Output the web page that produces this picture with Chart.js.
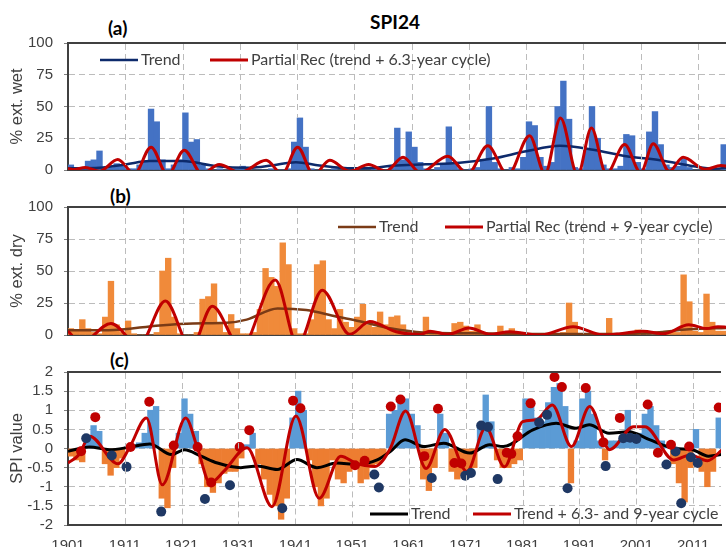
<!DOCTYPE html>
<html>
<head>
<meta charset="utf-8">
<script src="https://cdn.jsdelivr.net/npm/chart.js@4.4.0/dist/chart.umd.min.js"></script>
<style>
  body { margin: 0; background: #fff; }
  #wrap { position: relative; width: 726px; height: 547px; overflow: hidden; font-family: Lato, "Open Sans", sans-serif; }
  canvas { position: absolute; left: 0; }
  .lbl { position: absolute; font-weight: bold; color: #000; font-size: 19px; line-height: 22px; }
</style>
</head>
<body>
<div id="wrap">
  <div class="lbl" style="left:345px; width:100px; text-align:center; top:11px; font-size:19px;">SPI24</div>
  <div class="lbl" style="left:108px; top:17px;">(a)</div>
  <div class="lbl" style="left:110px; top:185px;">(b)</div>
  <div class="lbl" style="left:110px; top:349px;">(c)</div>
  <canvas id="chartA" width="726" height="190" style="top:0px"></canvas>
  <canvas id="chartB" width="726" height="170" style="top:185px"></canvas>
  <canvas id="chartC" width="726" height="202" style="top:345px"></canvas>
</div>
<script>
/* ------------------ DATA ------------------ */
const firstYear = 1901;                  // bars: one value per year, 1901..2016
const decadeTicks = [1901, 1911, 1921, 1931, 1941, 1951, 1961, 1971, 1981, 1991, 2001, 2011];

// (a) % of area extremely wet
const wetPct = [
  4, 1, 1, 7, 8, 15, 1, 2, 5, 4,
  1, 1, 4, 7, 48, 38, 8, 1, 4, 8,
  45, 22, 24, 4, 1, 0, 1, 0, 0, 1,
  3, 1, 0, 0, 0, 1, 0, 0, 1, 22,
  41, 18, 1, 0, 0, 0, 1, 0, 0, 0,
  0, 0, 0, 1, 0, 0, 2, 33, 8, 30,
  18, 6, 1, 0, 2, 5, 34, 5, 1, 0,
  1, 2, 8, 50, 6, 1, 0, 2, 1, 10,
  38, 35, 10, 3, 6, 50, 70, 40, 2, 1,
  16, 50, 25, 4, 1, 1, 3, 28, 27, 6,
  1, 30, 46, 20, 4, 2, 3, 9, 2, 0,
  0, 0, 0, 0, 20, 37
];
// (b) % of area extremely dry
const dryPct = [
  5, 3, 12, 5, 2, 1, 14, 42, 8, 2,
  11, 1, 0, 0, 0, 2, 50, 60, 14, 1,
  0, 0, 2, 28, 30, 40, 10, 2, 16, 5,
  1, 1, 2, 20, 52, 45, 38, 72, 55, 5,
  1, 1, 12, 55, 58, 12, 5, 20, 10, 6,
  14, 24, 8, 6, 18, 8, 14, 15, 8, 2,
  1, 1, 14, 2, 1, 0, 2, 9, 10, 7,
  3, 8, 1, 1, 1, 7, 1, 5, 1, 0,
  0, 0, 0, 0, 0, 1, 2, 25, 10, 1,
  0, 0, 0, 1, 13, 1, 0, 0, 0, 4,
  0, 0, 0, 1, 3, 3, 2, 47, 26, 3,
  2, 32, 10, 3, 3, 3
];
// (c) SPI24 value
const spiVal = [
  -0.2, -0.3, -0.35, 0.3, 0.6, 0.45, -0.4, -0.7, -0.5, -0.25,
  0.05, 0.1, 0.15, 0.4, 1.0, 1.1, -1.3, -1.55, -0.5, 0.4,
  1.3, 0.9, 0.45, -0.4, -1.0, -1.15, -0.9, -0.65, -0.6, -0.6,
  -0.25, 0.1, 0.4, -0.4, -0.8, -1.2, -1.5, -1.85, -1.3, 0.8,
  1.5, 1.0, -0.3, -1.0, -1.5, -1.3, -0.3, -0.8, -0.9, -0.6,
  -0.5, -0.9, -0.8, -0.5, -0.4, -0.2, 0.9, 1.0, 1.2, 1.3,
  0.9, 0.6, -0.8, -1.1, -0.5, 0.9, 0.4, -0.6, -0.8, -0.7,
  -0.6, -0.5, 0.6, 1.4, 0.7, -0.3, -0.5, -0.5, -0.4, -0.3,
  1.3, 1.1, 0.8, 0.7, 1.2, 1.6, 1.7, 1.1, -0.9, 0.2,
  1.3, 1.5, 0.9, 0.2, -0.3, 0.2, 0.2, 0.2, 1.0, 0.4,
  0.4, 0.9, 1.1, 0.6, 0.2, 0.1, -0.4, -0.9, -1.4, -0.5,
  0.5, -0.6, -1.0, -0.6, 0.8, 0.9
];

// smooth curves: [year, value] read at turning points
const wetTrend = [
  [1901, 1.3], [1906.5, 1.8], [1911.1, 4.4], [1915.2, 7], [1921, 7], [1926.9, 3],
  [1932.7, 1.8], [1936.5, 3.5], [1940.8, 6.2], [1944.9, 3.6], [1950.7, 1.3], [1954, 1.5],
  [1957.7, 3.5], [1963.5, 4.5], [1969.4, 5.7], [1975.2, 9], [1981, 14.7], [1986.9, 19],
  [1992.7, 16], [1998.5, 10.8], [2004.4, 7.7], [2010.2, 3], [2013.7, 1], [2016.2, 1.8]
];
const wetRec = [
  [1901, 1.3], [1902, 0.3], [1904, 2], [1906.5, -1], [1909.7, 8.3], [1912.6, -3],
  [1915.5, 18], [1918.4, -4], [1921.3, 15.6], [1924.4, -3], [1927.4, 4.3], [1931, -2],
  [1935.6, 7.6], [1938.4, -3], [1941.1, 18], [1943.9, -4], [1946.7, 7.6], [1950.2, -1],
  [1953.5, 4.3], [1956.5, -1], [1959.5, 10], [1962.5, -2], [1967.3, 10.9], [1970.8, -3],
  [1974.3, 19], [1977.8, -4], [1981.6, 27], [1984.3, -3], [1987, 41], [1990, -4],
  [1992.4, 33], [1995, -3], [1998.2, 20], [2001, -2], [2003.2, 20.7], [2006, -1],
  [2008.4, 10], [2012.3, 0.5], [2015, 3.5], [2016.2, 3]
];
const dryTrend = [
  [1901, 3.75], [1908, 3.75], [1917, 7.5], [1922.8, 9], [1928.7, 9.5], [1932.2, 12],
  [1937.6, 20.75], [1942.6, 19.5], [1947.8, 14.5], [1951.9, 10.75], [1957.5, 5], [1963, 2],
  [1974.6, 1.25], [1986.2, 0.75], [1997.9, 0.75], [2003.7, 2], [2009.5, 4.5], [2016.2, 5.5]
];
const dryRec = [
  [1901, 3], [1903.3, -6], [1908.5, 9], [1913.4, -8], [1918, 26.5], [1922.5, -10],
  [1926.2, 22.5], [1931.2, -10], [1937.2, 43], [1941.1, -8], [1945.4, 35], [1950.2, 0.5],
  [1953.7, 10.5], [1958.3, 2.5], [1962.4, 0.3], [1964.2, 3], [1967.4, 0.5], [1971, 5.5],
  [1974.8, 0.5], [1978.1, 2.5], [1983.5, 0], [1989.2, 6.5], [1994.5, 0], [1997.5, 1],
  [2001.4, 3], [2005, 1], [2009.4, 8], [2012.5, 5], [2014.5, 6.5], [2016.2, 6]
];
const spiTrend = [
  [1901, -0.07], [1904.8, 0.04], [1908.3, -0.03], [1911.7, 0.03], [1915.4, 0.12], [1919.2, -0.16],
  [1921.5, -0.03], [1924.4, -0.2], [1927.3, -0.38], [1931.4, -0.5], [1934.3, -0.46], [1937.8, -0.55],
  [1941.3, -0.29], [1944.8, -0.5], [1948.3, -0.38], [1951.8, -0.42], [1955.4, -0.3], [1957.7, -0.08],
  [1960.3, 0.23], [1963.6, 0.05], [1967.1, 0.14], [1971.7, -0.12], [1975.2, 0.1], [1977.6, 0.05],
  [1982.8, 0.49], [1986.9, 0.66], [1990.4, 0.53], [1992.7, 0.62], [1996.2, 0.4], [1999.7, 0.44],
  [2003.2, 0.24], [2007.8, 0.0], [2010.8, -0.03], [2013.7, -0.2], [2016.2, -0.15]
];
const spiRec = [
  [1901, -0.38], [1903, -0.15], [1904.8, 0.32], [1909.8, -0.4], [1911.9, 0.05], [1914.8, 0.8],
  [1917.6, -0.95], [1921.7, 0.8], [1923.8, 0.0], [1926, -0.9], [1928.4, -0.6], [1932.5, 0.02],
  [1936.9, -1.52], [1941.1, 0.85], [1945.2, -1.3], [1949, -0.2], [1951.9, -0.4], [1955, -0.47],
  [1957.7, 0.0], [1960.4, 0.98], [1964, -0.52], [1967.3, 0.5], [1971.2, -0.6], [1974.5, 0.55],
  [1977.8, -0.48], [1981, 0.7], [1983.4, 0.75], [1986.2, 1.14], [1989.6, 0.05], [1992.8, 1.1],
  [1996.3, -0.03], [2000.5, 0.57], [2002.5, 0.57], [2007.6, -0.3], [2010.5, -0.17], [2013.5, -0.32],
  [2016.2, -0.02]
];
// (c) marked wet / dry events
const wetEvents = [
  [1903.3, -0.07], [1905.8, 0.82], [1912.0, 0.04], [1915.3, 1.22], [1919.6, 0.08], [1923.8, 0.04],
  [1926.2, -0.89], [1931.2, 0.04], [1932.9, 0.48], [1940.6, 1.25], [1941.9, 1.05], [1951.5, -0.44],
  [1953.2, -0.32], [1957.8, 1.1], [1959.5, 1.28], [1963.7, -0.2], [1966.1, 1.04], [1969.0, -0.38],
  [1970.2, -0.39], [1978.2, -0.11], [1979.0, -0.14], [1980.1, 0.32], [1982.4, 1.18], [1986.6, 1.87],
  [1987.9, 1.61], [1992.1, 1.58], [1995.2, 0.16], [1998.1, 0.8], [2003.0, 1.15], [2004.8, -0.11],
  [2007.1, 0.1], [2010.3, 0.05], [2015.5, 1.07]
];
const dryEvents = [
  [1904.2, 0.27], [1908.7, -0.18], [1911.3, -0.48], [1917.4, -1.65], [1925.1, -1.32], [1929.5, -0.96],
  [1938.7, -1.56], [1954.9, -0.68], [1955.7, -1.02], [1965.0, -0.77], [1970.9, -0.71], [1971.9, -0.64],
  [1973.7, 0.6], [1974.9, 0.56], [1976.6, -0.8], [1983.9, 0.68], [1985.3, 0.88], [1988.9, -1.04],
  [1995.6, -0.46], [1998.7, 0.27], [1999.9, 0.28], [2001.0, 0.25], [2006.3, -0.42], [2007.9, -0.08],
  [2008.9, -1.43], [2010.6, -0.23], [2011.8, -0.38]
];

/* ------------------ HELPERS ------------------ */
const yearBars = vals => vals.map((v, i) => ({ x: firstYear + i + 0.5, y: v }));
const xy = pairs => pairs.map(p => ({ x: p[0], y: p[1] }));

const tickFont = { family: "Liberation Sans", size: 15 };
const textColor = "#404040";
const gridColor = "#bcbcbc";
const frameColor = "#404040";

// dashed decade lines (left out where a bar stands) + solid line along the top of the plot
const frameGrid = {
  id: "frameGrid",
  afterDraw(chart) {
    const { ctx, chartArea, scales } = chart;
    const barSet = chart.data.datasets.find(d => d.type === "bar");
    const yAt = v => scales.y.getPixelForValue(v);
    const top = chartArea.top + 1;
    const bottom = chartArea.bottom - 1;

    ctx.save();
    ctx.strokeStyle = gridColor;
    ctx.lineWidth = 1;
    ctx.setLineDash([6, 4]);
    for (const v of decadeTicks) {
      const px = Math.round(scales.x.getPixelForValue(v)) + 0.5;
      if (px <= chartArea.left + 2) continue;
      const i = v - firstYear;
      const a = barSet.data[i - 1] ? barSet.data[i - 1].y : 0;
      const b = barSet.data[i] ? barSet.data[i].y : 0;
      const hi = Math.max(0, a, b);
      const lo = Math.min(0, a, b);
      const segs = [[top, Math.min(yAt(hi), bottom)], [Math.max(yAt(lo), top), bottom]];
      segs.forEach(([y1, y2]) => {
        if (y2 - y1 > 1) {
          ctx.beginPath();
          ctx.moveTo(px, y1);
          ctx.lineTo(px, y2);
          ctx.stroke();
        }
      });
    }
    ctx.restore();

    ctx.save();
    ctx.strokeStyle = frameColor;
    ctx.lineWidth = 2;
    ctx.beginPath();
    ctx.moveTo(chartArea.left, chartArea.top);
    ctx.lineTo(chartArea.right, chartArea.top);
    ctx.stroke();
    ctx.restore();
  }
};

// legend drawn inside the plot area (after the grid so lines don't cross the text)
const insideLegend = {
  id: "insideLegend",
  afterDraw(chart, args, opts) {
    const ctx = chart.ctx;
    ctx.save();
    ctx.font = "16px Lato";
    ctx.textBaseline = "middle";
    opts.items.forEach(it => {
      const ds = chart.data.datasets[it.index];
      ctx.strokeStyle = ds.borderColor;
      ctx.lineWidth = ds.borderWidth;
      ctx.beginPath();
      ctx.moveTo(it.x, it.y);
      ctx.lineTo(it.x + 38, it.y);
      ctx.stroke();
      ctx.fillStyle = textColor;
      ctx.fillText(ds.label, it.x + 41, it.y);
    });
    ctx.restore();
  }
};

function makeScales(yMin, yMax, yStep, yTitle, showX) {
  return {
    x: {
      type: "linear",
      min: 1901,
      max: 2015.9,
      offset: false,
      afterBuildTicks: s => { s.ticks = decadeTicks.map(v => ({ value: v })); },
      afterFit: s => { s.height = showX ? 22 : 0; },
      grid: { display: false, drawTicks: false, offset: false },
      border: { display: true, color: frameColor, width: 2 },
      ticks: {
        display: showX, autoSkip: false, maxRotation: 0, padding: 12,
        font: tickFont, color: textColor, callback: v => String(v)
      }
    },
    y: {
      min: yMin,
      max: yMax,
      afterFit: s => { s.width = 68; },
      grid: { color: gridColor, lineWidth: 1, drawTicks: true, tickLength: 4, tickColor: "#808080", tickBorderDash: [] },
      border: { display: true, color: frameColor, width: 2, dash: [6, 4] },
      ticks: {
        stepSize: yStep, autoSkip: false, padding: 11, font: tickFont, color: textColor,
        callback: v => String(v)
      },
      title: {
        display: true, text: yTitle, color: textColor,
        font: { family: "Liberation Sans", size: 16.5 }, padding: { top: 8, bottom: 0 }
      }
    }
  };
}

function baseOptions(scales, padding, legendItems) {
  return {
    responsive: false,
    animation: false,
    layout: { padding: padding },
    scales: scales,
    plugins: {
      legend: { display: false },
      tooltip: { enabled: false },
      insideLegend: { items: legendItems }
    }
  };
}

const lineSet = (label, data, color, width, order) => ({
  type: "line", label, data: xy(data), borderColor: color, borderWidth: width,
  pointRadius: 0, cubicInterpolationMode: "monotone", fill: false, order
});

/* ------------------ (a) EXTREMELY WET ------------------ */
new Chart(document.getElementById("chartA"), {
  type: "line",
  data: {
    datasets: [
      lineSet("Trend", wetTrend, "#0d2a6b", 2.5, 2),
      lineSet("Partial Rec (trend + 6.3-year cycle)", wetRec, "#c00000", 3, 1),
      {
        type: "bar", label: "wet", data: yearBars(wetPct), backgroundColor: "#4472c4",
        borderWidth: 0, barPercentage: 1, categoryPercentage: 1, order: 3
      }
    ]
  },
  options: baseOptions(makeScales(0, 100, 25, "% ext. wet", false),
    { top: 43, bottom: 15, left: 0, right: 0 },
    [{ index: 0, x: 100, y: 60 }, { index: 1, x: 210, y: 60 }]),
  plugins: [frameGrid, insideLegend]
});

/* ------------------ (b) EXTREMELY DRY ------------------ */
new Chart(document.getElementById("chartB"), {
  type: "line",
  data: {
    datasets: [
      lineSet("Trend", dryTrend, "#7a3b16", 2.5, 2),
      lineSet("Partial Rec (trend + 9-year cycle)", dryRec, "#c00000", 3, 1),
      {
        type: "bar", label: "dry", data: yearBars(dryPct), backgroundColor: "#f08a3a",
        borderWidth: 0, barPercentage: 1, categoryPercentage: 1, order: 3
      }
    ]
  },
  options: baseOptions(makeScales(0, 100, 25, "% ext. dry", false),
    { top: 22, bottom: 14, left: 0, right: 0 },
    [{ index: 0, x: 338, y: 42 }, { index: 1, x: 445, y: 42 }]),
  plugins: [frameGrid, insideLegend]
});

/* ------------------ (c) SPI VALUE ------------------ */
new Chart(document.getElementById("chartC"), {
  type: "line",
  data: {
    datasets: [
      {
        type: "line", label: "wet events", data: xy(wetEvents), showLine: false,
        pointRadius: 5, pointBackgroundColor: "#c00000", pointBorderWidth: 0, order: 0
      },
      {
        type: "line", label: "dry events", data: xy(dryEvents), showLine: false,
        pointRadius: 5, pointBackgroundColor: "#1f3864", pointBorderWidth: 0, order: 0
      },
      lineSet("Trend", spiTrend, "#000000", 3, 2),
      lineSet("Trend + 6.3- and 9-year cycle", spiRec, "#c00000", 3, 1),
      {
        type: "bar", label: "SPI", data: yearBars(spiVal),
        backgroundColor: c => (c.raw && c.raw.y < 0 ? "#ed7d31" : "#5b9bd5"),
        borderWidth: 0, barPercentage: 1, categoryPercentage: 1, order: 3
      }
    ]
  },
  options: baseOptions(makeScales(-2, 2, 0.5, "SPI value", true),
    { top: 27, bottom: 0, left: 0, right: 0 },
    [{ index: 2, x: 370, y: 169 }, { index: 3, x: 473, y: 169 }]),
  plugins: [frameGrid, insideLegend]
});
</script>
</body>
</html>
